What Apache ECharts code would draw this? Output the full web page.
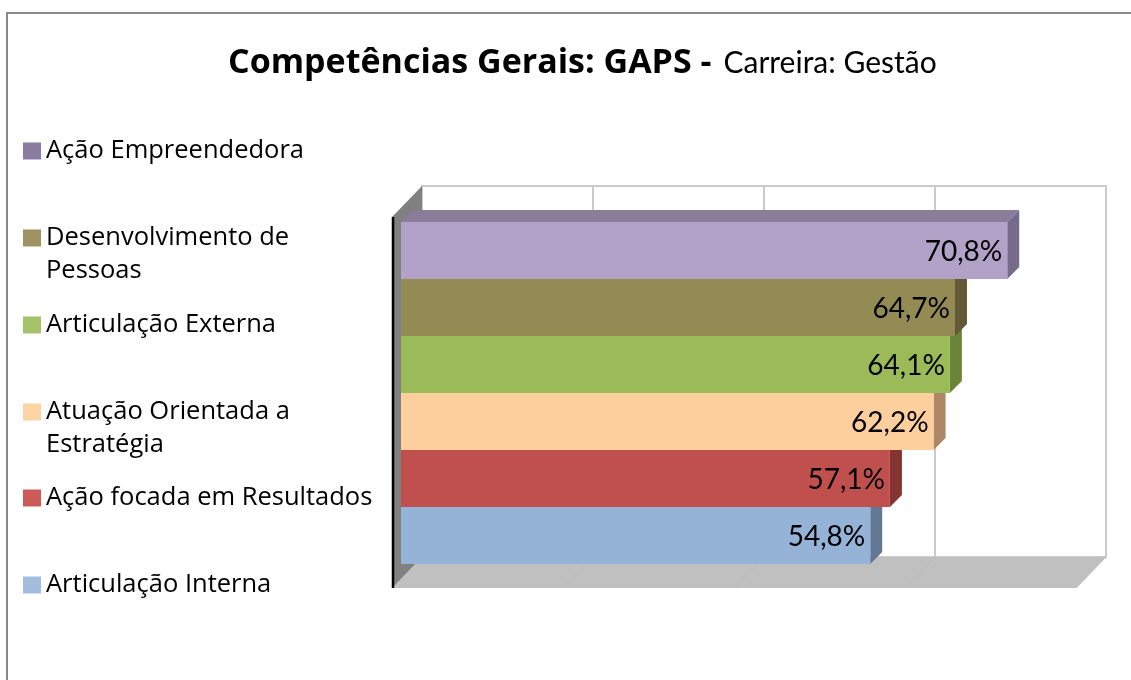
<!DOCTYPE html>
<html>
<head>
<meta charset="utf-8">
<title>Competências Gerais: GAPS</title>
<script src="https://cdn.jsdelivr.net/npm/echarts@6/dist/echarts.min.js"></script>
<style>
    html, body { margin: 0; padding: 0; background: #fff; }
    #chart { width: 1131px; height: 680px; }
</style>
</head>
<body>
<div id="chart"></div>
<script>
(function () {
    'use strict';

    // dados (de baixo para cima)
    var categories = ['Articulação Interna', 'Ação focada em Resultados', 'Atuação Orientada a Estratégia',
        'Articulação Externa', 'Desenvolvimento de Pessoas', 'Ação Empreendedora'];
    var values = [54.8, 57.1, 62.2, 64.1, 64.7, 70.8];
    var legendLines = {
        'Desenvolvimento de Pessoas': 'Desenvolvimento de\nPessoas',
        'Atuação Orientada a Estratégia': 'Atuação Orientada a\nEstratégia'
    };
    var axisTicks = [0, 20, 40, 60, 80];

    // cores: frente, topo, lado, legenda
    var colors = [
        ['#95b3d7', '#7b93b1', '#627893', '#a3bde0'],
        ['#c0504d', '#9c3f3d', '#843432', '#cc5a56'],
        ['#fdcf9d', '#d0a67e', '#ad8766', '#fdd5a5'],
        ['#9bbb59', '#7e9a47', '#6a843a', '#a5c36b'],
        ['#948a54', '#7a7146', '#625a37', '#9d9261'],
        ['#b3a2c7', '#8a7d9a', '#776b8c', '#8b7ba0']
    ];
    var legendCenters = [585, 498, 412, 325, 238, 151];
    var LINE = 33;
    var DEPTH = 12;

    var myChart = echarts.init(document.getElementById('chart'));

    function fmt(v) {
        return v.toFixed(1).replace('.', ',') + '%';
    }

    var series = [{
        type: 'custom',
        name: 'parede',
        xAxisIndex: 0,
        yAxisIndex: 0,
        z: 1,
        silent: true,
        data: [[0, 0]],
        renderItem: function (params, api) {
            var cs = params.coordSys;
            var dx = -30, dy = 31;
            var bx = cs.x, by = cs.y + cs.height, r = cs.x + cs.width;
            var children = [{
                type: 'polygon',
                shape: { points: [[bx, by], [r, by], [r + dx, by + dy], [bx + dx, by + dy]] },
                style: { fill: '#c0c0c0' }
            }];
            axisTicks.forEach(function (t) {
                var p = api.coord([t, 0]);
                children.push({
                    type: 'line',
                    shape: { x1: p[0], y1: p[1], x2: p[0] + dx, y2: p[1] + dy },
                    style: { stroke: '#bababa', lineWidth: 1 }
                });
            });
            children.push({
                type: 'polygon',
                shape: { points: [[bx, cs.y], [bx, by], [bx + dx, by + dy], [bx + dx, cs.y + dy]] },
                style: { fill: '#808080' }
            });
            children.push({
                type: 'line',
                shape: { x1: bx + dx + 1, y1: cs.y + dy, x2: bx + dx + 1, y2: by + dy },
                style: { stroke: '#000', lineWidth: 2.5 }
            });
            return { type: 'group', children: children };
        }
    }];

    categories.forEach(function (name, i) {
        var c = colors[i];
        series.push({
            type: 'custom',
            name: name,
            xAxisIndex: 1,
            yAxisIndex: 1,
            z: 2 + i,
            itemStyle: { color: c[0] },
            data: [[values[i], i]],
            encode: { x: 0, y: 1 },
            renderItem: function (params, api) {
                var end = api.coord([api.value(0), api.value(1)]);
                var start = api.coord([0, api.value(1)]);
                var h = api.size([0, 1])[1];
                var top = end[1] - h / 2, bot = end[1] + h / 2;
                var x0 = start[0], x1 = end[0], d = DEPTH;
                return {
                    type: 'group',
                    children: [{
                        type: 'polygon',
                        shape: { points: [[x0, top], [x0 + d, top - d], [x1 + d, top - d], [x1, top]] },
                        style: { fill: c[1] }
                    }, {
                        type: 'polygon',
                        shape: { points: [[x1, top], [x1 + d, top - d], [x1 + d, bot - d], [x1, bot]] },
                        style: { fill: c[2] }
                    }, {
                        type: 'rect',
                        shape: { x: x0, y: top, width: x1 - x0, height: h },
                        style: { fill: c[0] }
                    }, {
                        type: 'text',
                        style: {
                            x: x1 - 5, y: end[1] + 1,
                            text: fmt(api.value(0)),
                            align: 'right', verticalAlign: 'middle',
                            font: '28px Lato', fill: '#000'
                        }
                    }]
                };
            }
        });
    });

    // uma legenda por item, para alinhar o marcador com a primeira linha
    var legends = categories.map(function (name, i) {
        var twoLines = !!legendLines[name];
        return {
            orient: 'vertical',
            left: 23,
            top: legendCenters[i] - (twoLines ? LINE * 1.5 : LINE / 2),
            padding: 0,
            itemWidth: 18,
            itemHeight: 17,
            selectedMode: false,
            icon: 'rect',
            formatter: function (n) {
                return legendLines[n] ? '\n' + legendLines[n] : n;
            },
            textStyle: { fontFamily: 'Open Sans', fontSize: 25.5, color: '#000', lineHeight: LINE },
            data: [{ name: name, itemStyle: { color: colors[i][3] } }]
        };
    });

    var option = {
        animation: false,
        title: {
            text: '{b|Competências Gerais: GAPS -}{s| }{n|Carreira: Gestão}',
            left: 228,
            top: 41,
            padding: 0,
            textStyle: {
                rich: {
                    b: { fontFamily: 'Open Sans', fontSize: 34, fontWeight: 'bold', color: '#000', lineHeight: 44 },
                    s: { fontFamily: 'Lato', fontSize: 31, lineHeight: 44, width: 12 },
                    n: { fontFamily: 'Lato', fontSize: 30, fontWeight: 'normal', color: '#000', lineHeight: 44 }
                }
            }
        },
        legend: legends,
        graphic: [{
            type: 'rect',
            silent: true,
            shape: { x: 7, y: 13, width: 1200, height: 800 },
            style: { fill: 'none', stroke: '#898989', lineWidth: 2 }
        }],
        grid: [
            { left: 422, top: 186, width: 684, height: 371, show: true, borderColor: '#cacaca', borderWidth: 2, backgroundColor: '#fff' },
            { left: 401, top: 222, width: 685, height: 342 }
        ],
        xAxis: [{
            gridIndex: 0, type: 'value', min: 0, max: 80, interval: 20,
            axisLine: { show: false }, axisTick: { show: false }, axisLabel: { show: false },
            splitLine: { show: true, lineStyle: { color: '#cacaca', width: 2 } }
        }, {
            gridIndex: 1, type: 'value', min: 0, max: 80, interval: 20,
            axisLine: { show: false }, axisTick: { show: false }, axisLabel: { show: false },
            splitLine: { show: false }
        }],
        yAxis: [{
            gridIndex: 0, type: 'value', min: 0, max: 1, show: false, splitLine: { show: false }
        }, {
            gridIndex: 1, type: 'category', data: categories, show: false
        }],
        series: series
    };

    myChart.setOption(option);
})();
</script>
</body>
</html>
